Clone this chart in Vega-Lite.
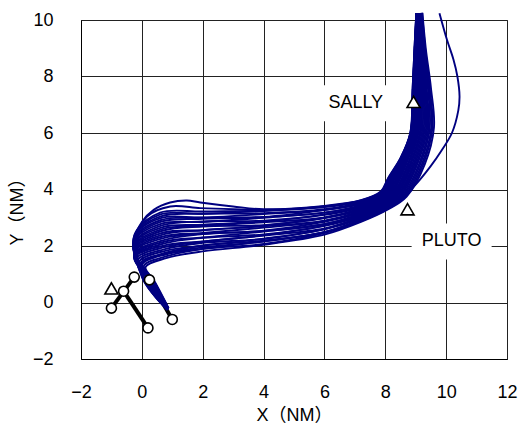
{
  "$schema": "https://vega.github.io/schema/vega-lite/v6.json",
  "width": 426,
  "height": 339,
  "autosize": {"type": "none"},
  "padding": {"left": 81, "top": 20, "right": 11, "bottom": 73},
  "background": "white",
  "config": {
    "font": "Liberation Sans, Noto Sans CJK JP",
    "view": {"stroke": "#444", "strokeWidth": 1},
    "axis": {
      "grid": true,
      "gridColor": "#222",
      "gridWidth": 1,
      "gridOpacity": 1,
      "ticks": false,
      "domainColor": "#000",
      "domainWidth": 1,
      "labelFont": "Liberation Sans",
      "labelFontSize": 18,
      "labelColor": "#000",
      "labelFlush": false,
      "labelOverlap": false,
      "titleFont": "Liberation Sans, Noto Sans CJK JP",
      "titleFontSize": 18,
      "titleFontWeight": "normal",
      "titleColor": "#000"
    }
  },
  "datasets": {
    "tracks": [
      {"id":0,"x":0.88,"y":-0.2},{"id":0,"x":0.4,"y":0.78},{"id":0,"x":0.12,"y":1.25},{"id":0,"x":0.8,"y":1.57},{"id":0,"x":2.0,"y":1.81},{"id":0,"x":4.0,"y":2.04},{"id":0,"x":6.0,"y":2.4},{"id":0,"x":7.2,"y":2.85},{"id":0,"x":8.1,"y":3.3},{"id":0,"x":8.7,"y":3.75},{"id":0,"x":9.3,"y":4.9},{"id":0,"x":9.6,"y":6.2},{"id":0,"x":9.5,"y":7.6},{"id":0,"x":9.33,"y":9.0},{"id":0,"x":9.22,"y":10.25},
      {"id":1,"x":0.86,"y":-0.22},{"id":1,"x":0.38,"y":0.78},{"id":1,"x":0.07,"y":1.3},{"id":1,"x":0.79,"y":1.63},{"id":1,"x":2.0,"y":1.9},{"id":1,"x":4.0,"y":2.07},{"id":1,"x":6.0,"y":2.46},{"id":1,"x":7.2,"y":2.88},{"id":1,"x":8.09,"y":3.32},{"id":1,"x":8.68,"y":3.78},{"id":1,"x":9.25,"y":4.91},{"id":1,"x":9.55,"y":6.19},{"id":1,"x":9.46,"y":7.6},{"id":1,"x":9.31,"y":9.0},{"id":1,"x":9.21,"y":10.25},
      {"id":2,"x":0.87,"y":-0.21},{"id":2,"x":0.37,"y":0.79},{"id":2,"x":0.02,"y":1.35},{"id":2,"x":0.78,"y":1.7},{"id":2,"x":2.0,"y":1.9},{"id":2,"x":4.0,"y":2.17},{"id":2,"x":6.0,"y":2.48},{"id":2,"x":7.2,"y":2.91},{"id":2,"x":8.08,"y":3.35},{"id":2,"x":8.65,"y":3.8},{"id":2,"x":9.21,"y":4.92},{"id":2,"x":9.51,"y":6.18},{"id":2,"x":9.43,"y":7.6},{"id":2,"x":9.29,"y":9.0},{"id":2,"x":9.2,"y":10.25},
      {"id":3,"x":0.85,"y":-0.23},{"id":3,"x":0.35,"y":0.79},{"id":3,"x":-0.04,"y":1.39},{"id":3,"x":0.78,"y":1.76},{"id":3,"x":2.0,"y":2.02},{"id":3,"x":4.0,"y":2.19},{"id":3,"x":6.0,"y":2.49},{"id":3,"x":7.2,"y":2.94},{"id":3,"x":8.07,"y":3.37},{"id":3,"x":8.63,"y":3.83},{"id":3,"x":9.16,"y":4.92},{"id":3,"x":9.46,"y":6.18},{"id":3,"x":9.4,"y":7.6},{"id":3,"x":9.27,"y":9.0},{"id":3,"x":9.19,"y":10.25},
      {"id":4,"x":0.87,"y":-0.21},{"id":4,"x":0.34,"y":0.79},{"id":4,"x":-0.09,"y":1.44},{"id":4,"x":0.77,"y":1.83},{"id":4,"x":2.0,"y":2.01},{"id":4,"x":4.0,"y":2.26},{"id":4,"x":6.0,"y":2.59},{"id":4,"x":7.2,"y":2.97},{"id":4,"x":8.06,"y":3.4},{"id":4,"x":8.6,"y":3.85},{"id":4,"x":9.12,"y":4.93},{"id":4,"x":9.42,"y":6.17},{"id":4,"x":9.36,"y":7.6},{"id":4,"x":9.25,"y":9.0},{"id":4,"x":9.17,"y":10.25},
      {"id":5,"x":0.86,"y":-0.22},{"id":5,"x":0.32,"y":0.79},{"id":5,"x":-0.14,"y":1.49},{"id":5,"x":0.76,"y":1.89},{"id":5,"x":2.0,"y":2.11},{"id":5,"x":4.0,"y":2.25},{"id":5,"x":6.0,"y":2.6},{"id":5,"x":7.2,"y":3.0},{"id":5,"x":8.05,"y":3.42},{"id":5,"x":8.58,"y":3.88},{"id":5,"x":9.07,"y":4.94},{"id":5,"x":9.38,"y":6.16},{"id":5,"x":9.33,"y":7.6},{"id":5,"x":9.23,"y":9.0},{"id":5,"x":9.16,"y":10.25},
      {"id":6,"x":0.85,"y":-0.23},{"id":6,"x":0.31,"y":0.8},{"id":6,"x":-0.19,"y":1.54},{"id":6,"x":0.75,"y":1.96},{"id":6,"x":2.0,"y":2.15},{"id":6,"x":4.0,"y":2.37},{"id":6,"x":6.0,"y":2.62},{"id":6,"x":7.2,"y":3.03},{"id":6,"x":8.04,"y":3.44},{"id":6,"x":8.56,"y":3.91},{"id":6,"x":9.03,"y":4.95},{"id":6,"x":9.34,"y":6.15},{"id":6,"x":9.3,"y":7.6},{"id":6,"x":9.21,"y":9.0},{"id":6,"x":9.15,"y":10.25},
      {"id":7,"x":0.86,"y":-0.22},{"id":7,"x":0.29,"y":0.8},{"id":7,"x":-0.24,"y":1.59},{"id":7,"x":0.74,"y":2.02},{"id":7,"x":2.0,"y":2.16},{"id":7,"x":4.0,"y":2.38},{"id":7,"x":6.0,"y":2.71},{"id":7,"x":7.2,"y":3.06},{"id":7,"x":8.03,"y":3.47},{"id":7,"x":8.53,"y":3.93},{"id":7,"x":8.99,"y":4.96},{"id":7,"x":9.3,"y":6.14},{"id":7,"x":9.27,"y":7.6},{"id":7,"x":9.19,"y":9.0},{"id":7,"x":9.14,"y":10.25},
      {"id":8,"x":0.87,"y":-0.22},{"id":8,"x":0.28,"y":0.8},{"id":8,"x":-0.25,"y":1.63},{"id":8,"x":0.74,"y":2.09},{"id":8,"x":2.0,"y":2.29},{"id":8,"x":4.0,"y":2.41},{"id":8,"x":6.0,"y":2.72},{"id":8,"x":7.2,"y":3.09},{"id":8,"x":8.02,"y":3.49},{"id":8,"x":8.51,"y":3.96},{"id":8,"x":8.95,"y":4.96},{"id":8,"x":9.26,"y":6.14},{"id":8,"x":9.24,"y":7.6},{"id":8,"x":9.17,"y":9.0},{"id":8,"x":9.13,"y":10.25},
      {"id":9,"x":0.85,"y":-0.23},{"id":9,"x":0.26,"y":0.81},{"id":9,"x":-0.25,"y":1.68},{"id":9,"x":0.73,"y":2.15},{"id":9,"x":2.0,"y":2.3},{"id":9,"x":4.0,"y":2.51},{"id":9,"x":6.0,"y":2.78},{"id":9,"x":7.2,"y":3.12},{"id":9,"x":8.01,"y":3.52},{"id":9,"x":8.48,"y":3.98},{"id":9,"x":8.91,"y":4.97},{"id":9,"x":9.22,"y":6.13},{"id":9,"x":9.21,"y":7.6},{"id":9,"x":9.15,"y":9.0},{"id":9,"x":9.12,"y":10.25},
      {"id":10,"x":0.86,"y":-0.23},{"id":10,"x":0.25,"y":0.81},{"id":10,"x":-0.25,"y":1.73},{"id":10,"x":0.72,"y":2.21},{"id":10,"x":2.0,"y":2.42},{"id":10,"x":4.0,"y":2.53},{"id":10,"x":6.0,"y":2.77},{"id":10,"x":7.2,"y":3.15},{"id":10,"x":8.0,"y":3.54},{"id":10,"x":8.46,"y":4.01},{"id":10,"x":8.87,"y":4.98},{"id":10,"x":9.18,"y":6.12},{"id":10,"x":9.18,"y":7.6},{"id":10,"x":9.13,"y":9.0},{"id":10,"x":9.11,"y":10.25},
      {"id":11,"x":0.86,"y":-0.22},{"id":11,"x":0.23,"y":0.81},{"id":11,"x":-0.25,"y":1.78},{"id":11,"x":0.71,"y":2.28},{"id":11,"x":2.0,"y":2.43},{"id":11,"x":4.0,"y":2.54},{"id":11,"x":6.0,"y":2.86},{"id":11,"x":7.2,"y":3.18},{"id":11,"x":7.99,"y":3.56},{"id":11,"x":8.44,"y":4.04},{"id":11,"x":8.84,"y":4.99},{"id":11,"x":9.15,"y":6.11},{"id":11,"x":9.15,"y":7.6},{"id":11,"x":9.12,"y":9.0},{"id":11,"x":9.1,"y":10.25},
      {"id":12,"x":0.87,"y":-0.22},{"id":12,"x":0.22,"y":0.81},{"id":12,"x":-0.25,"y":1.83},{"id":12,"x":0.7,"y":2.34},{"id":12,"x":2.0,"y":2.46},{"id":12,"x":4.0,"y":2.65},{"id":12,"x":6.0,"y":2.88},{"id":12,"x":7.2,"y":3.21},{"id":12,"x":7.98,"y":3.59},{"id":12,"x":8.41,"y":4.06},{"id":12,"x":8.8,"y":5.0},{"id":12,"x":9.11,"y":6.1},{"id":12,"x":9.13,"y":7.6},{"id":12,"x":9.1,"y":9.0},{"id":12,"x":9.1,"y":10.25},
      {"id":13,"x":0.85,"y":-0.24},{"id":13,"x":0.2,"y":0.82},{"id":13,"x":-0.25,"y":1.87},{"id":13,"x":0.7,"y":2.41},{"id":13,"x":2.0,"y":2.56},{"id":13,"x":4.0,"y":2.7},{"id":13,"x":6.0,"y":2.9},{"id":13,"x":7.2,"y":3.24},{"id":13,"x":7.97,"y":3.61},{"id":13,"x":8.39,"y":4.09},{"id":13,"x":8.77,"y":5.0},{"id":13,"x":9.08,"y":6.1},{"id":13,"x":9.1,"y":7.6},{"id":13,"x":9.08,"y":9.0},{"id":13,"x":9.09,"y":10.25},
      {"id":14,"x":0.86,"y":-0.23},{"id":14,"x":0.19,"y":0.82},{"id":14,"x":-0.25,"y":1.92},{"id":14,"x":0.69,"y":2.47},{"id":14,"x":2.0,"y":2.56},{"id":14,"x":4.0,"y":2.72},{"id":14,"x":6.0,"y":2.99},{"id":14,"x":7.2,"y":3.27},{"id":14,"x":7.96,"y":3.64},{"id":14,"x":8.36,"y":4.11},{"id":14,"x":8.73,"y":5.01},{"id":14,"x":9.05,"y":6.09},{"id":14,"x":9.08,"y":7.6},{"id":14,"x":9.07,"y":9.0},{"id":14,"x":9.08,"y":10.25},
      {"id":15,"x":0.87,"y":-0.23},{"id":15,"x":0.17,"y":0.82},{"id":15,"x":-0.25,"y":1.97},{"id":15,"x":0.68,"y":2.54},{"id":15,"x":2.0,"y":2.69},{"id":15,"x":4.0,"y":2.74},{"id":15,"x":6.0,"y":3.0},{"id":15,"x":7.2,"y":3.3},{"id":15,"x":7.95,"y":3.66},{"id":15,"x":8.34,"y":4.14},{"id":15,"x":8.7,"y":5.02},{"id":15,"x":9.02,"y":6.08},{"id":15,"x":9.05,"y":7.6},{"id":15,"x":9.05,"y":9.0},{"id":15,"x":9.07,"y":10.25},
      {"id":16,"x":0.85,"y":-0.24},{"id":16,"x":0.16,"y":0.82},{"id":16,"x":-0.25,"y":2.02},{"id":16,"x":0.67,"y":2.6},{"id":16,"x":2.0,"y":2.71},{"id":16,"x":4.0,"y":2.84},{"id":16,"x":6.0,"y":3.01},{"id":16,"x":7.2,"y":3.33},{"id":16,"x":7.94,"y":3.68},{"id":16,"x":8.32,"y":4.17},{"id":16,"x":8.67,"y":5.03},{"id":16,"x":8.99,"y":6.07},{"id":16,"x":9.03,"y":7.6},{"id":16,"x":9.04,"y":9.0},{"id":16,"x":9.06,"y":10.25},
      {"id":17,"x":0.86,"y":-0.24},{"id":17,"x":0.14,"y":0.83},{"id":17,"x":-0.25,"y":2.07},{"id":17,"x":0.66,"y":2.66},{"id":17,"x":2.0,"y":2.75},{"id":17,"x":4.0,"y":2.87},{"id":17,"x":6.0,"y":3.1},{"id":17,"x":7.2,"y":3.36},{"id":17,"x":7.93,"y":3.71},{"id":17,"x":8.29,"y":4.19},{"id":17,"x":8.65,"y":5.04},{"id":17,"x":8.96,"y":6.06},{"id":17,"x":9.01,"y":7.6},{"id":17,"x":9.03,"y":9.0},{"id":17,"x":9.06,"y":10.25},
      {"id":18,"x":0.86,"y":-0.24},{"id":18,"x":0.13,"y":0.83},{"id":18,"x":-0.25,"y":2.11},{"id":18,"x":0.66,"y":2.73},{"id":18,"x":2.0,"y":2.87},{"id":18,"x":4.0,"y":2.9},{"id":18,"x":6.0,"y":3.12},{"id":18,"x":7.2,"y":3.39},{"id":18,"x":7.92,"y":3.73},{"id":18,"x":8.27,"y":4.22},{"id":18,"x":8.62,"y":5.04},{"id":18,"x":8.94,"y":6.06},{"id":18,"x":8.99,"y":7.6},{"id":18,"x":9.02,"y":9.0},{"id":18,"x":9.05,"y":10.25},
      {"id":19,"x":0.85,"y":-0.25},{"id":19,"x":0.11,"y":0.83},{"id":19,"x":-0.25,"y":2.16},{"id":19,"x":0.65,"y":2.79},{"id":19,"x":2.0,"y":2.85},{"id":19,"x":4.0,"y":3.0},{"id":19,"x":6.0,"y":3.18},{"id":19,"x":7.2,"y":3.42},{"id":19,"x":7.91,"y":3.76},{"id":19,"x":8.24,"y":4.24},{"id":19,"x":8.59,"y":5.05},{"id":19,"x":8.91,"y":6.05},{"id":19,"x":8.97,"y":7.6},{"id":19,"x":9.0,"y":9.0},{"id":19,"x":9.04,"y":10.25},
      {"id":20,"x":0.86,"y":-0.25},{"id":20,"x":0.1,"y":0.84},{"id":20,"x":-0.25,"y":2.21},{"id":20,"x":0.64,"y":2.86},{"id":20,"x":2.0,"y":2.96},{"id":20,"x":4.0,"y":3.02},{"id":20,"x":6.0,"y":3.18},{"id":20,"x":7.2,"y":3.45},{"id":20,"x":7.9,"y":3.78},{"id":20,"x":8.22,"y":4.27},{"id":20,"x":8.57,"y":5.06},{"id":20,"x":8.89,"y":6.04},{"id":20,"x":8.95,"y":7.6},{"id":20,"x":8.99,"y":9.0},{"id":20,"x":9.04,"y":10.25},
      {"id":21,"x":0.84,"y":-0.25},{"id":21,"x":0.08,"y":0.84},{"id":21,"x":-0.25,"y":2.26},{"id":21,"x":0.63,"y":2.92},{"id":21,"x":2.0,"y":3.0},{"id":21,"x":4.0,"y":3.03},{"id":21,"x":6.0,"y":3.27},{"id":21,"x":7.2,"y":3.48},{"id":21,"x":7.89,"y":3.8},{"id":21,"x":8.2,"y":4.3},{"id":21,"x":8.55,"y":5.07},{"id":21,"x":8.87,"y":6.03},{"id":21,"x":8.94,"y":7.6},{"id":21,"x":8.98,"y":9.0},{"id":21,"x":9.03,"y":10.25},
      {"id":22,"x":0.85,"y":-0.25},{"id":22,"x":0.07,"y":0.84},{"id":22,"x":-0.25,"y":2.31},{"id":22,"x":0.62,"y":2.99},{"id":22,"x":2.0,"y":3.01},{"id":22,"x":4.0,"y":3.13},{"id":22,"x":6.0,"y":3.28},{"id":22,"x":7.2,"y":3.51},{"id":22,"x":7.88,"y":3.83},{"id":22,"x":8.17,"y":4.32},{"id":22,"x":8.53,"y":5.08},{"id":22,"x":8.85,"y":6.02},{"id":22,"x":8.92,"y":7.6},{"id":22,"x":8.98,"y":9.0},{"id":22,"x":9.03,"y":10.25},
      {"id":23,"x":0.84,"y":-0.26},{"id":23,"x":0.05,"y":0.84},{"id":23,"x":-0.25,"y":2.35},{"id":23,"x":0.62,"y":3.05},{"id":23,"x":2.0,"y":3.14},{"id":23,"x":4.0,"y":3.16},{"id":23,"x":6.0,"y":3.3},{"id":23,"x":7.2,"y":3.54},{"id":23,"x":7.87,"y":3.85},{"id":23,"x":8.15,"y":4.35},{"id":23,"x":8.52,"y":5.08},{"id":23,"x":8.84,"y":6.02},{"id":23,"x":8.91,"y":7.6},{"id":23,"x":8.97,"y":9.0},{"id":23,"x":9.02,"y":10.25},
      {"id":24,"x":0.85,"y":-0.26},{"id":24,"x":0.04,"y":0.85},{"id":24,"x":-0.24,"y":2.4},{"id":24,"x":0.61,"y":3.12},{"id":24,"x":2.0,"y":3.14},{"id":24,"x":4.0,"y":3.24},{"id":24,"x":6.0,"y":3.38},{"id":24,"x":7.2,"y":3.57},{"id":24,"x":7.86,"y":3.88},{"id":24,"x":8.12,"y":4.37},{"id":24,"x":8.51,"y":5.09},{"id":24,"x":8.83,"y":6.01},{"id":24,"x":8.9,"y":7.6},{"id":24,"x":8.96,"y":9.0},{"id":24,"x":9.02,"y":10.25},
      {"id":25,"x":0.84,"y":-0.26},{"id":25,"x":0.02,"y":0.85},{"id":25,"x":-0.2,"y":2.45},{"id":25,"x":0.6,"y":3.18},{"id":25,"x":2.0,"y":3.22},{"id":25,"x":4.0,"y":3.26},{"id":25,"x":6.0,"y":3.4},{"id":25,"x":7.2,"y":3.6},{"id":25,"x":7.85,"y":3.9},{"id":25,"x":8.1,"y":4.4},{"id":25,"x":8.5,"y":5.1},{"id":25,"x":8.82,"y":6.0},{"id":25,"x":8.9,"y":7.6},{"id":25,"x":8.96,"y":9.0},{"id":25,"x":9.02,"y":10.25},
      {"id":26,"x":0.86,"y":-0.24},{"id":26,"x":0.08,"y":0.84},{"id":26,"x":-0.22,"y":2.3},{"id":26,"x":0.0,"y":2.85},{"id":26,"x":0.39,"y":3.28},{"id":26,"x":0.93,"y":3.54},{"id":26,"x":1.48,"y":3.61},{"id":26,"x":1.92,"y":3.54},{"id":26,"x":3.0,"y":3.4},{"id":26,"x":4.0,"y":3.3},{"id":26,"x":6.0,"y":3.42},{"id":26,"x":7.2,"y":3.62},{"id":26,"x":7.85,"y":3.93},{"id":26,"x":8.1,"y":4.42},{"id":26,"x":8.5,"y":5.12},{"id":26,"x":8.83,"y":6.0},{"id":26,"x":8.91,"y":7.6},{"id":26,"x":8.97,"y":9.0},{"id":26,"x":9.03,"y":10.25},
      {"id":27,"x":0.85,"y":-0.24},{"id":27,"x":0.12,"y":0.83},{"id":27,"x":-0.2,"y":2.2},{"id":27,"x":0.17,"y":3.04},{"id":27,"x":0.93,"y":3.4},{"id":27,"x":1.92,"y":3.34},{"id":27,"x":3.0,"y":3.3},{"id":27,"x":4.0,"y":3.28},{"id":27,"x":6.0,"y":3.4},{"id":27,"x":7.2,"y":3.61},{"id":27,"x":7.86,"y":3.91},{"id":27,"x":8.12,"y":4.4},{"id":27,"x":8.52,"y":5.1},{"id":27,"x":8.84,"y":6.01},{"id":27,"x":8.91,"y":7.6},{"id":27,"x":8.97,"y":9.0},{"id":27,"x":9.03,"y":10.25},
      {"id":28,"x":0.87,"y":-0.21},{"id":28,"x":0.36,"y":0.79},{"id":28,"x":0.0,"y":1.37},{"id":28,"x":0.78,"y":1.74},{"id":28,"x":2.0,"y":1.95},{"id":28,"x":4.0,"y":2.16},{"id":28,"x":6.0,"y":2.5},{"id":28,"x":7.2,"y":2.92},{"id":28,"x":8.08,"y":3.36},{"id":28,"x":8.65,"y":3.82},{"id":28,"x":8.95,"y":4.12},{"id":28,"x":9.48,"y":4.81},{"id":28,"x":9.86,"y":5.4},{"id":28,"x":10.19,"y":6.0},{"id":28,"x":10.4,"y":6.8},{"id":28,"x":10.44,"y":7.3},{"id":28,"x":10.37,"y":8.0},{"id":28,"x":10.24,"y":8.6},{"id":28,"x":10.03,"y":9.29},{"id":28,"x":9.78,"y":10.24}
    ],
    "headings": [
      {"x": -1.0, "y": -0.2, "x2": -0.25, "y2": 0.9},
      {"x": -0.6, "y": 0.4, "x2": 0.2, "y2": -0.9},
      {"x": 0.25, "y": 0.8, "x2": 1.0, "y2": -0.6}
    ],
    "aircraft": [
      {"x": -1.0, "y": -0.2},
      {"x": -0.6, "y": 0.4},
      {"x": -0.25, "y": 0.9},
      {"x": 0.2, "y": -0.9},
      {"x": 0.25, "y": 0.8},
      {"x": 1.0, "y": -0.6}
    ],
    "fixes": [
      {"x": -1.0, "y": 0.5},
      {"x": 8.93, "y": 7.1},
      {"x": 8.73, "y": 3.3}
    ],
    "labels": [
      {"name": "SALLY", "x": 7.03, "y": 7.05},
      {"name": "PLUTO", "x": 10.18, "y": 2.16}
    ]
  },
  "encoding": {
    "x": {
      "field": "x",
      "type": "quantitative",
      "scale": {"domain": [-2, 12], "nice": false, "zero": false},
      "axis": {"values": [-2, 0, 2, 4, 6, 8, 10, 12], "title": "X（NM）", "labelPadding": 24, "titlePadding": 5}
    },
    "y": {
      "field": "y",
      "type": "quantitative",
      "scale": {"domain": [-2, 10], "nice": false, "zero": false},
      "axis": {"values": [-2, 0, 2, 4, 6, 8, 10], "title": "Y（NM）", "labelPadding": 28, "titlePadding": 6, "titleY": 187}
    }
  },
  "layer": [
    {
      "data": {"name": "labels"},
      "mark": {"type": "point", "shape": "M-1,-0.45H1V0.45H-1Z", "size": 6400, "filled": true, "color": "white", "opacity": 1, "strokeWidth": 0}
    },
    {
      "data": {"name": "headings"},
      "mark": {"type": "rule", "color": "black", "strokeWidth": 4},
      "encoding": {"x2": {"field": "x2"}, "y2": {"field": "y2"}}
    },
    {
      "data": {"name": "tracks"},
      "mark": {"type": "line", "color": "#000080", "strokeWidth": 1.9, "interpolate": "catmull-rom"},
      "encoding": {"detail": {"field": "id"}, "order": {"value": null}}
    },
    {
      "data": {"name": "aircraft"},
      "mark": {"type": "point", "shape": "circle", "size": 100, "filled": true, "fill": "white", "stroke": "black", "strokeWidth": 1.6, "opacity": 1}
    },
    {
      "data": {"name": "fixes"},
      "mark": {"type": "point", "shape": "triangle-up", "size": 170, "filled": true, "fill": "white", "stroke": "black", "strokeWidth": 1.6, "opacity": 1}
    },
    {
      "data": {"name": "labels"},
      "mark": {"type": "text", "font": "Liberation Sans", "fontSize": 18, "color": "black"},
      "encoding": {"text": {"field": "name"}}
    }
  ]
}
